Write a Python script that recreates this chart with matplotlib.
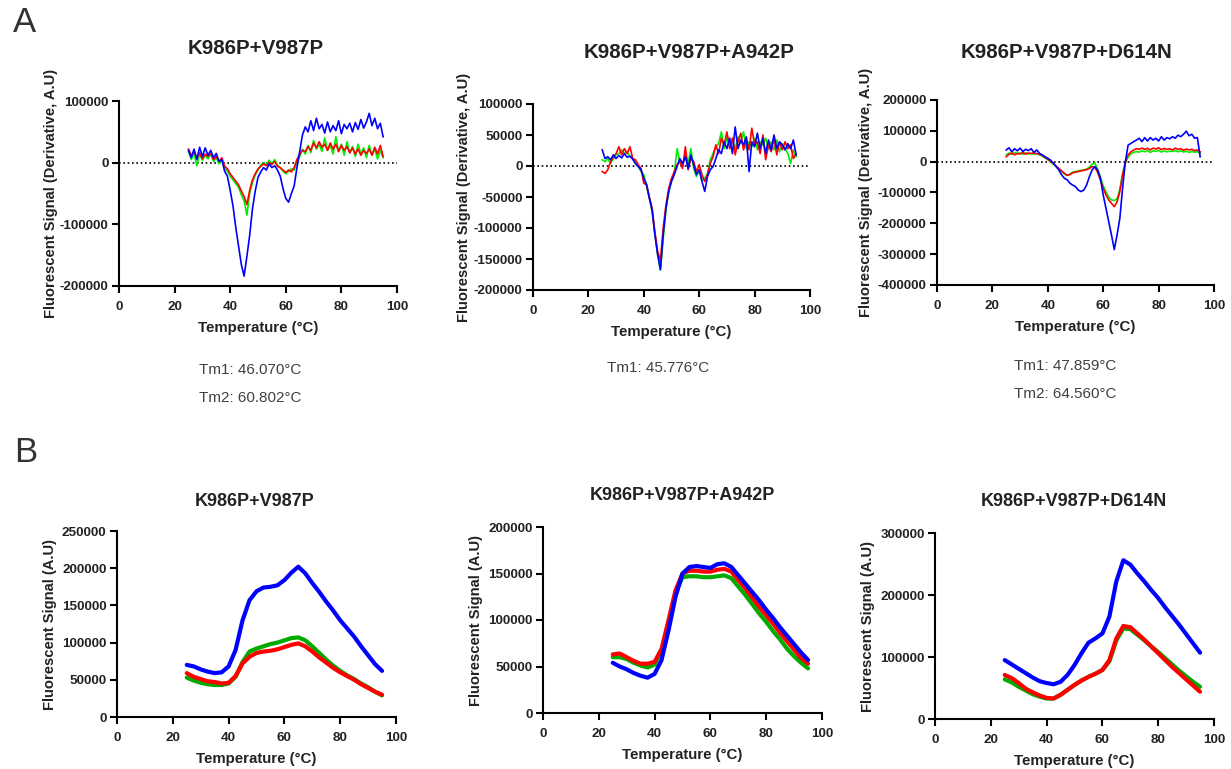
import numpy as np
import matplotlib
matplotlib.use('Agg')
import matplotlib.pyplot as plt

plt.rcParams['font.family'] = ['Liberation Sans', 'DejaVu Sans']

# temperature grids (degC)
temps_a = np.arange(25, 96, 1)
temps_b = np.arange(25, 95.1, 2.5)

titles = ['K986P+V987P', 'K986P+V987P+A942P', 'K986P+V987P+D614N']

# panel A: first derivative of the melt curves, in thousands
a1_blue = [20, 8, 22, 5, 25, 10, 24, 12, 20, 8,
           15, 2, 5, -14, -22, -45, -70, -105, -135, -165,
           -184, -152, -118, -75, -46, -24, -15, -8, -12, -2,
           -8, -5, -12, -22, -42, -58, -64, -50, -38, -8,
           18, 45, 58, 50, 68, 52, 72, 55, 62, 48,
           66, 50, 60, 52, 68, 47, 62, 55, 64, 50,
           65, 54, 70, 56, 66, 80, 60, 72, 55, 64,
           42]
a1_red = [22, 12, 18, 8, 16, 6, 14, 10, 15, 5,
          10, 2, 8, -6, -10, -18, -24, -30, -36, -46,
          -55, -68, -45, -28, -18, -10, -6, -2, -5, 0,
          -3, 2, -6, -8, -12, -16, -12, -15, -8, 5,
          14, 20, 18, 26, 20, 32, 24, 34, 25, 30,
          20, 32, 22, 30, 18, 28, 20, 26, 16, 24,
          14, 22, 12, 20, 15, 22, 12, 25, 14, 28,
          10]
a1_green = [18, 5, 15, -5, 14, 4, 12, 6, 14, 2,
            8, -2, 4, -10, -14, -22, -28, -34, -40, -52,
            -62, -85, -50, -32, -20, -12, -4, 0, -3, 4,
            -2, 5, -4, -8, -14, -18, -14, -10, -12, 0,
            10, 22, 14, 28, 16, 36, 22, 30, 18, 40,
            20, 28, 14, 42, 18, 30, 12, 34, 16, 26,
            10, 30, 14, 24, 8, 28, 12, 22, 6, 20,
            8]

a2_blue = [26, 12, 15, 10, 18, 12, 17, 13, 20, 14,
           16, 11, 4, -1, -6, -20, -30, -52, -71, -111,
           -143, -167, -111, -68, -41, -25, -14, -1, 12, 4,
           15, -4, 18, 2, -14, -6, -25, -41, -17, -6,
           -1, 12, 26, 20, 39, 28, 45, 20, 63, 28,
           42, 34, 47, -9, 39, 31, 53, 28, 45, 20,
           42, 26, 50, 28, 39, 34, 26, 36, 28, 42,
           18]
a2_red = [-9, -12, -6, 7, 15, 20, 31, 18, 28, 20,
          31, 12, 10, 2, -4, -28, -30, -50, -68, -106,
          -138, -152, -100, -63, -36, -20, -9, 2, 7, -4,
          31, -6, 12, 7, -9, 2, -14, -25, -14, 4,
          15, 34, 20, 45, 34, 55, 28, 45, 18, 39,
          53, 26, 45, 26, 61, 34, 39, 20, 50, 10,
          34, 23, 45, 18, 39, 26, 39, 28, 34, 12,
          20]
a2_green = [10, 7, 12, 4, 12, 18, 20, 26, 20, 23,
            15, 12, 4, -1, -9, -14, -33, -52, -74, -109,
            -143, -168, -117, -71, -41, -23, -12, 28, 7, -1,
            20, 4, 28, -4, -17, -6, -23, -20, -12, 10,
            20, 31, 36, 55, 28, 45, 34, 42, 28, 47,
            36, 55, 28, 39, 31, 45, 26, 39, 34, 45,
            28, 39, 26, 42, 23, 36, 28, 20, 4, 26,
            15]

a3_blue = [38, 45, 32, 42, 35, 44, 33, 40, 36, 42,
           30, 38, 27, 22, 16, 11, 5, -5, -16, -27,
           -43, -54, -59, -70, -76, -81, -92, -97, -92, -76,
           -49, -27, -16, -27, -54, -108, -151, -195, -238, -285,
           -238, -184, -86, 0, 54, 59, 65, 70, 76, 65,
           78, 67, 78, 70, 76, 67, 81, 70, 78, 74,
           81, 76, 86, 81, 89, 99, 84, 89, 76, 78,
           16]
a3_red = [16, 24, 28, 22, 27, 25, 30, 24, 28, 26,
          29, 26, 25, 20, 14, 8, 2, -6, -14, -22,
          -30, -38, -44, -42, -36, -34, -32, -30, -28, -26,
          -22, -16, -18, -35, -60, -86, -108, -124, -135, -146,
          -130, -97, -43, 0, 22, 32, 38, 42, 40, 44,
          40, 43, 38, 44, 41, 45, 39, 43, 40, 42,
          38, 44, 40, 42, 37, 41, 38, 40, 36, 38,
          32]
a3_green = [22, 28, 24, 30, 26, 28, 24, 29, 25, 27,
            24, 26, 22, 18, 12, 6, 0, -8, -16, -24,
            -32, -40, -45, -40, -34, -32, -30, -28, -27, -24,
            -18, -8, -4, -25, -50, -78, -98, -115, -124, -126,
            -120, -90, -40, -5, 15, 25, 30, 33, 31, 35,
            32, 36, 30, 35, 33, 37, 31, 35, 32, 34,
            33, 36, 32, 35, 31, 34, 30, 33, 31, 32,
            28]

# panel B: raw melt curves, in thousands
b1_blue = [70, 68, 64, 61, 59, 60, 68, 90, 130, 157, 169, 174, 175, 177, 184,
           194, 202, 193, 180, 168, 155, 143, 130, 119, 108, 95, 83, 71, 62]
b1_red = [59, 54, 51, 48, 47, 45, 46, 55, 72, 81, 86, 88, 89, 91, 94,
          97, 99, 95, 88, 80, 73, 66, 60, 55, 50, 44, 39, 34, 30]
b1_green = [53, 49, 46, 44, 43, 43, 45, 54, 74, 88, 92, 95, 98, 100, 103,
            106, 107, 103, 95, 86, 77, 69, 62, 56, 51, 45, 40, 34, 29]

b2_blue = [54, 50, 47, 43, 40, 38, 42, 57, 89, 125, 150, 157, 158, 157, 156,
           160, 161, 157, 148, 139, 130, 121, 111, 102, 92, 83, 74, 65, 57]
b2_red = [63, 64, 60, 56, 53, 53, 55, 69, 100, 132, 150, 153, 153, 152, 152,
          154, 155, 152, 143, 134, 124, 114, 105, 96, 86, 77, 68, 59, 53]
b2_green = [60, 60, 58, 54, 51, 49, 52, 68, 96, 129, 146, 147, 147, 146, 146,
            147, 148, 145, 136, 127, 117, 107, 98, 88, 79, 69, 61, 54, 48]

b3_blue = [95, 88, 81, 74, 67, 61, 58, 56, 60, 71, 87, 106, 123, 130, 138,
           165, 222, 256, 249, 235, 222, 208, 195, 180, 166, 152, 137, 122, 107]
b3_red = [71, 66, 58, 49, 43, 38, 34, 33, 39, 47, 55, 62, 68, 73, 79,
          95, 130, 150, 148, 138, 128, 117, 106, 95, 84, 74, 64, 54, 44]
b3_green = [64, 59, 52, 46, 40, 36, 33, 33, 39, 47, 55, 62, 68, 73, 79,
            93, 127, 146, 145, 136, 127, 117, 108, 98, 88, 78, 69, 60, 52]

# melting temperatures shown under panel A
tm_texts = [['Tm1: 46.070\u00b0C', 'Tm2: 60.802\u00b0C'],
            ['Tm1: 45.776\u00b0C'],
            ['Tm1: 47.859\u00b0C', 'Tm2: 64.560\u00b0C']]

a_data = [(a1_green, a1_red, a1_blue), (a2_green, a2_red, a2_blue), (a3_green, a3_red, a3_blue)]
b_data = [(b1_green, b1_red, b1_blue), (b2_green, b2_red, b2_blue), (b3_green, b3_red, b3_blue)]
a_yticks = [np.arange(-200000, 100001, 100000), np.arange(-200000, 100001, 50000),
            np.arange(-400000, 200001, 100000)]
b_yticks = [np.arange(0, 250001, 50000), np.arange(0, 200001, 50000), np.arange(0, 300001, 100000)]

W, H = 1231, 769
fig = plt.figure(figsize=(W/100, H/100), dpi=100)

# axes boxes in pixels: left, top, right, bottom
a_boxes = [(119, 101, 397, 286), (533, 104, 810, 290), (937, 100, 1214, 285)]
b_boxes = [(117, 531, 396, 717), (543, 527, 822, 713), (935, 533, 1214, 719)]
a_titles_xy = [(256, 49), (689, 52), (1066, 52)]
b_titles_xy = [(255, 501), (682, 496), (1074, 501)]
tm_xy = [(250, 370), (658, 368), (1065, 366)]


def make_axes(box):
    l, t, r, b = box
    return fig.add_axes([l/W, 1 - b/H, (r - l)/W, (b - t)/H])


def style_axis(ax, yticks, ylabel, labelx):
    for side in ['top', 'right']:
        ax.spines[side].set_visible(False)
    for side in ['left', 'bottom']:
        ax.spines[side].set_linewidth(1.5)
    ax.set_xlim(0, 100)
    ax.set_xticks(np.arange(0, 101, 20))
    ax.set_ylim(yticks[0], yticks[-1])
    ax.set_yticks(yticks)
    ax.set_yticklabels([str(int(v)) for v in yticks])
    ax.tick_params(width=1.5, length=5, pad=2.5, labelsize=9.7, color='black')
    ax.tick_params(axis='x', pad=5.5)
    for lab in ax.get_xticklabels() + ax.get_yticklabels():
        lab.set_fontweight('bold')
        lab.set_color('#222222')
    ax.set_xlabel('Temperature (\u00b0C)', fontsize=10.8, fontweight='bold', color='#222222', labelpad=6)
    ax.set_ylabel(ylabel, fontsize=10.6, fontweight='bold', color='#222222')
    ax.yaxis.set_label_coords(labelx, 0.5)


colors_a = ['#00EE00', '#FF0000', '#0000FF']
colors_b = ['#00AA00', '#FF0000', '#0000FF']
a_labelx = [-0.22, -0.225, -0.232]
b_labelx = [-0.215, -0.215, -0.215]

# panel A
for i in range(3):
    ax = make_axes(a_boxes[i])
    ax.axhline(0, color='black', ls=(0, (1, 1.6)), lw=1.2, zorder=1)
    for vals, col in zip(a_data[i], colors_a):
        ax.plot(temps_a, np.array(vals) * 1000, color=col, lw=1.2, zorder=2)
    style_axis(ax, a_yticks[i], 'Fluorescent Signal (Derivative, A.U)', a_labelx[i])
    fig.text(a_titles_xy[i][0]/W, 1 - a_titles_xy[i][1]/H, titles[i], ha='center', va='center',
             fontsize=14.8, fontweight='bold', color='#222222')
    for j, txt in enumerate(tm_texts[i]):
        fig.text(tm_xy[i][0]/W, 1 - (tm_xy[i][1] + 28*j)/H, txt, ha='center', va='center',
                 fontsize=11, color='#404040')

# panel B
for i in range(3):
    ax = make_axes(b_boxes[i])
    for vals, col in zip(b_data[i], colors_b):
        ax.plot(temps_b, np.array(vals) * 1000, color=col, lw=3.0, solid_capstyle='round')
    style_axis(ax, b_yticks[i], 'Fluorescent Signal (A.U)', b_labelx[i])
    fig.text(b_titles_xy[i][0]/W, 1 - b_titles_xy[i][1]/H, titles[i], ha='center', va='center',
             fontsize=13, fontweight='bold', color='#222222')

# panel letters
fig.text(24.5/W, 1 - 22.5/H, 'A', ha='center', va='center', fontsize=25, color='#333333')
fig.text(26/W, 1 - 453/H, 'B', ha='center', va='center', fontsize=25, color='#333333')

fig.savefig('out.png', dpi=100)
